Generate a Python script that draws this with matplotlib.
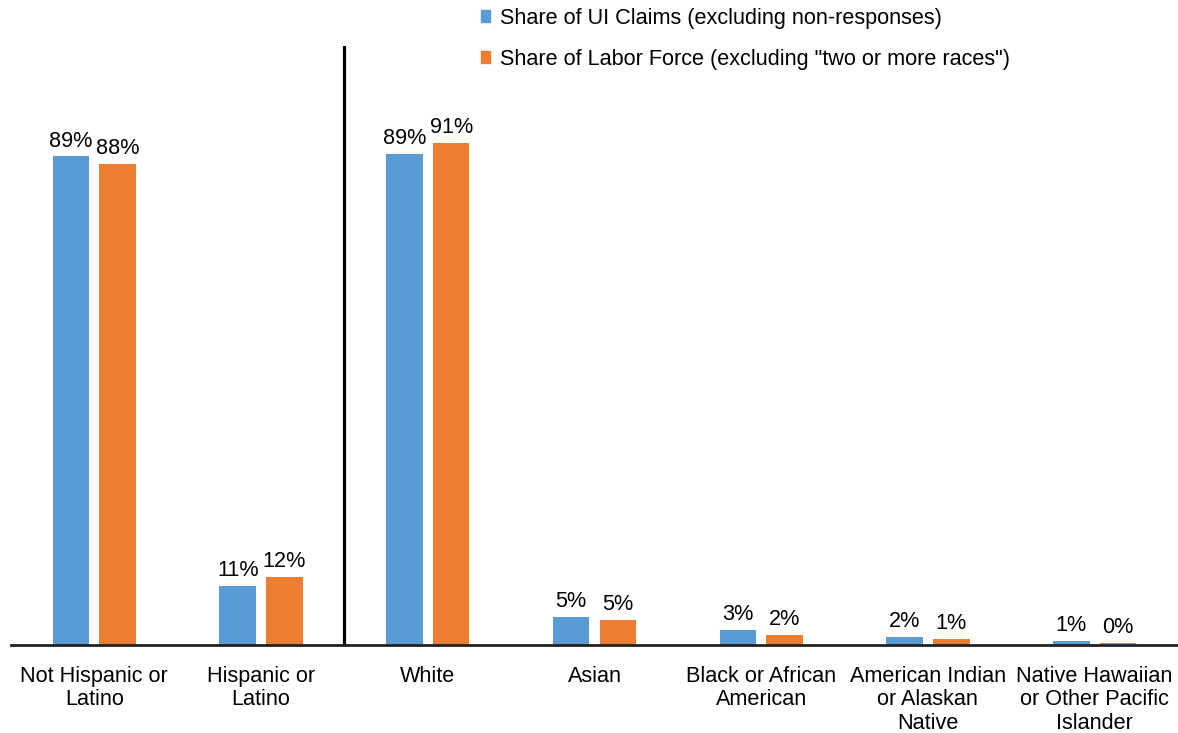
import matplotlib.pyplot as plt
from matplotlib.patches import Patch
import numpy as np

plt.rcParams['font.family'] = ['Liberation Sans', 'DejaVu Sans']

# --- Data (percent) ---
categories = ['Not Hispanic or\nLatino', 'Hispanic or\nLatino', 'White', 'Asian',
              'Black or African\nAmerican', 'American Indian\nor Alaskan\nNative',
              'Native Hawaiian\nor Other Pacific\nIslander']
ui_claims = [88.9, 10.7, 89.4, 5.1, 2.7, 1.5, 0.7]
labor_force = [87.5, 12.4, 91.3, 4.6, 1.8, 1.1, 0.4]
series_names = ['Share of UI Claims (excluding non-responses)',
                'Share of Labor Force (excluding "two or more races")']

BLUE = '#5B9BD5'
ORANGE = '#ED7D31'
FS = 15.6

fig = plt.figure(figsize=(11.78, 7.33), dpi=100)
ax = fig.add_axes([11 / 1178, 88 / 733, 1167 / 1178, 599 / 733])

x = np.arange(len(categories))
w = 0.22
off = 0.14
b1 = ax.bar(x - off, ui_claims, w, color=BLUE)
b2 = ax.bar(x + off, labor_force, w, color=ORANGE)

for bars, vals in ((b1, ui_claims), (b2, labor_force)):
    for b, v in zip(bars, vals):
        ax.text(b.get_x() + b.get_width() / 2, v + 0.9, f'{v:.0f}%',
                ha='center', va='bottom', fontsize=FS)

ax.set_xlim(-0.5, len(categories) - 0.5)
ax.set_ylim(0, 109)
ax.set_xticks(x)
ax.set_xticklabels(categories, fontsize=FS, linespacing=1.15)
ax.tick_params(axis='x', length=0, pad=15)
ax.set_yticks([])
for s in ('top', 'right', 'left'):
    ax.spines[s].set_visible(False)
ax.spines['bottom'].set_color('#222222')
ax.spines['bottom'].set_linewidth(2)

# separator between ethnicity and race groups
ax.axvline(1.5, ymin=0, ymax=1, color='black', linewidth=2.3)

handles = [Patch(color=BLUE), Patch(color=ORANGE)]
fig.legend(handles, series_names, loc='upper left', bbox_to_anchor=(472 / 1178, 1.0012),
           frameon=False, fontsize=FS, handlelength=0.45, handleheight=0.45,
           handletextpad=0.45, labelspacing=0.92, borderaxespad=0.0)

fig.savefig('out.png', dpi=100)
